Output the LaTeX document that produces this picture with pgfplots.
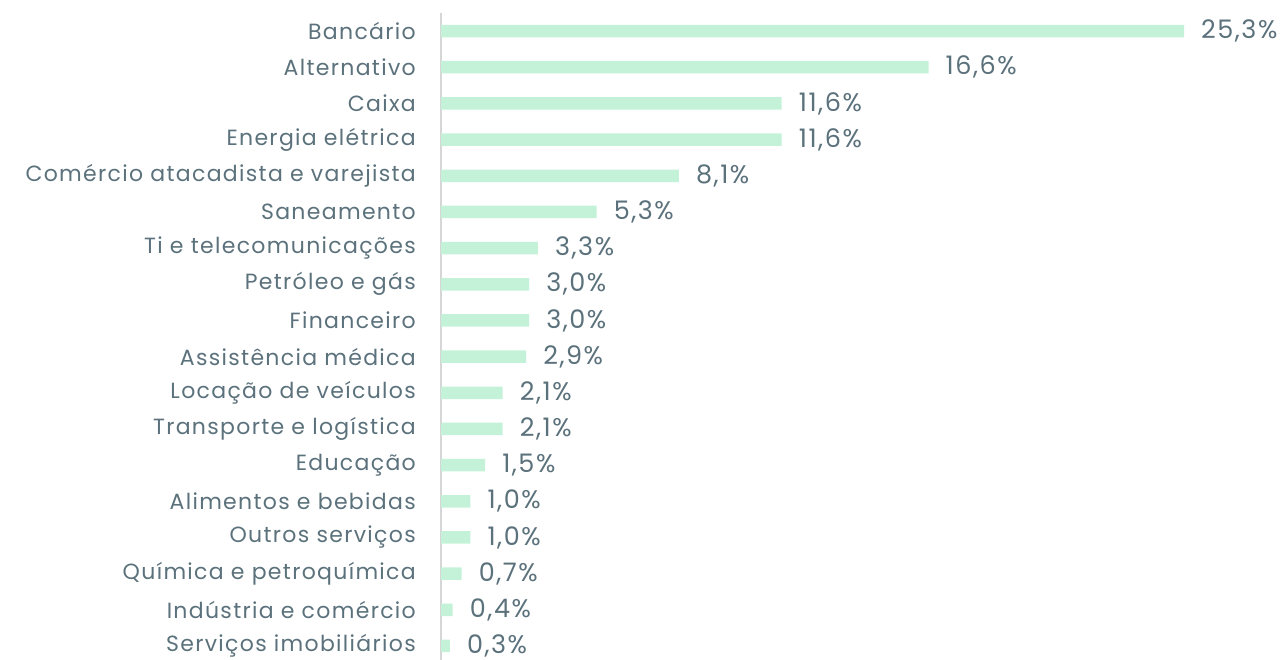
\documentclass[border=0pt]{standalone}
\usepackage{pgfplots}
\pgfplotsset{compat=1.18}
\usepackage{fontspec}
\setmainfont{Poppins}[LetterSpace=6]
\definecolor{barc}{HTML}{C3F2D8}
\definecolor{txt}{HTML}{5B717B}
\definecolor{axl}{HTML}{D6D6D6}
\begin{document}
\begin{tikzpicture}
\begin{axis}[
  at={(441pt,0pt)}, anchor=south west,
  scale only axis, width=743pt, height=647pt,
  xmin=0, xmax=25.3, ymin=-0.387, ymax=17.5,
  xbar, bar width=12.5pt, bar shift=0pt,
  axis x line=none, axis y line*=left,
  y axis line style={draw=axl, line width=1.6pt, -},
  ytick={0,...,17}, major tick length=0pt,
  yticklabels={Serviços imobiliários, Indústria e comércio, Química e petroquímica, Outros serviços, Alimentos e bebidas, Educação, Transporte e logística, Locação de veículos, Assistência médica, Financeiro, Petróleo e gás, Ti e telecomunicações, Saneamento, Comércio atacadista e varejista, Energia elétrica, Caixa, Alternativo, Bancário},
  yticklabel style={font=\fontsize{22}{24}\selectfont, text=txt, xshift=-18pt, inner sep=7pt},
  nodes near coords={\pgfmathprintnumber{\pgfplotspointmeta}\%},
  nodes near coords style={font=\fontsize{25.5}{28}\selectfont, text=txt, anchor=west, xshift=10pt, inner sep=7pt},
  point meta=x,
  /pgf/number format/.cd, fixed, fixed zerofill, precision=1, use comma, assume math mode=true,
  /pgfplots/clip=false,
]
\addplot[fill=barc, draw=none] coordinates {
(0.3,0) (0.4,1) (0.7,2) (1.0,3) (1.0,4) (1.5,5) (2.1,6) (2.1,7) (2.9,8) (3.0,9) (3.0,10) (3.3,11) (5.3,12) (8.1,13) (11.6,14) (11.6,15) (16.6,16) (25.3,17)
};
\end{axis}
\pgfresetboundingbox
\useasboundingbox (0,0) rectangle (1285pt,660pt);
\end{tikzpicture}
\end{document}
